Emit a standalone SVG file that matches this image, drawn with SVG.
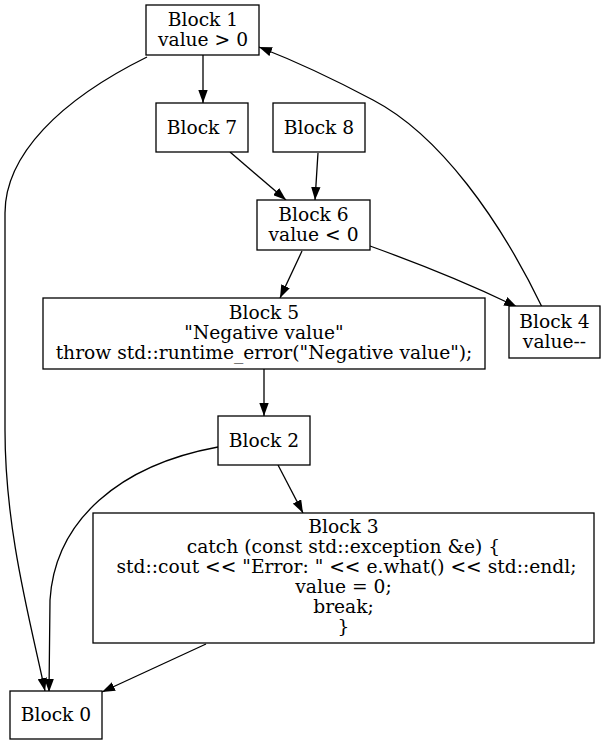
<svg xmlns="http://www.w3.org/2000/svg" width="606" height="745" viewBox="0 0 606 745">
<style>
.n rect{fill:#fff;stroke:#000;stroke-width:1.3}
.n text{font-family:"DejaVu Serif",serif;font-size:18.67px;text-anchor:middle;fill:#000}
.e path{fill:none;stroke:#000;stroke-width:1.3}
</style>
<defs>
<marker id="ah" viewBox="0 0 13 9.4" refX="13" refY="4.7" markerWidth="13" markerHeight="9.4" markerUnits="userSpaceOnUse" orient="auto">
<path d="M0,0 L13,4.7 L0,9.4 z" fill="#000"/>
</marker>
</defs>
<rect width="606" height="745" fill="#fff"/>
<g id="edges" class="e">
<path marker-end="url(#ah)" d="M203,55 L203,103"/>
<path marker-end="url(#ah)" d="M147,57 C60,100 5,155 5,213 L5,430 C5,530 30,620 45,691"/>
<path marker-end="url(#ah)" d="M230,152 L286,200"/>
<path marker-end="url(#ah)" d="M318,153 L315,200"/>
<path marker-end="url(#ah)" d="M302,251 L280,298"/>
<path marker-end="url(#ah)" d="M370,246 C420,264 470,284 517,307"/>
<path marker-end="url(#ah)" d="M542,307 C500,220 440,135 373,100 C343,84 300,63 259,47"/>
<path marker-end="url(#ah)" d="M264,369 L264,416"/>
<path marker-end="url(#ah)" d="M218,447 C120,465 55,520 50,600 L49,692"/>
<path marker-end="url(#ah)" d="M278,465 L303,513"/>
<path marker-end="url(#ah)" d="M206,644 L102,692"/>
</g>
<g id="block1" class="n"><rect x="146" y="5" width="113" height="50"/><text x="203" y="26">Block 1</text><text x="203" y="46">value &gt; 0</text></g>
<g id="block7" class="n"><rect x="156" y="103" width="92" height="49"/><text x="202" y="134">Block 7</text></g>
<g id="block8" class="n"><rect x="273" y="103" width="92" height="49"/><text x="319" y="134">Block 8</text></g>
<g id="block6" class="n"><rect x="257" y="200" width="113" height="50"/><text x="313.5" y="221">Block 6</text><text x="313.5" y="241">value &lt; 0</text></g>
<g id="block5" class="n"><rect x="43" y="298" width="442" height="71"/><text x="264" y="319">Block 5</text><text x="264" y="339">"Negative value"</text><text x="264" y="359">throw std::runtime_error("Negative value");</text></g>
<g id="block4" class="n"><rect x="509" y="306" width="91" height="52"/><text x="554.5" y="328">Block 4</text><text x="554.5" y="348">value--</text></g>
<g id="block2" class="n"><rect x="218" y="416" width="92" height="49"/><text x="264" y="447">Block 2</text></g>
<g id="block3" class="n"><rect x="93" y="513" width="501" height="130"/><text x="343.5" y="533">Block 3</text><text x="343.5" y="553">catch (const std::exception &amp;e) {</text><text x="343.5" y="573" style="white-space:pre"> std::cout &lt;&lt; "Error: " &lt;&lt; e.what() &lt;&lt; std::endl;</text><text x="343.5" y="593">value = 0;</text><text x="343.5" y="613">break;</text><text x="343.5" y="633">}</text></g>
<g id="block0" class="n"><rect x="10" y="691" width="92" height="48"/><text x="56" y="721">Block 0</text></g>
</svg>
